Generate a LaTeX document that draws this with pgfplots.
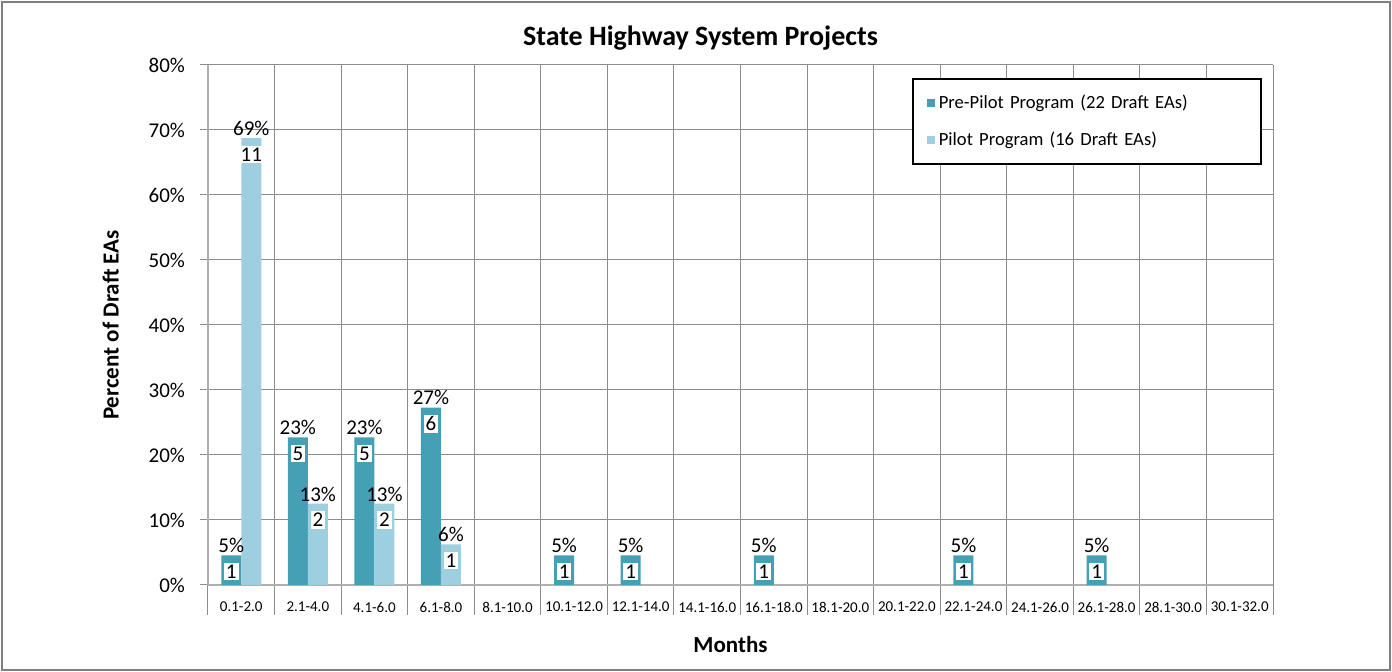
\documentclass[border=0pt]{standalone}
\usepackage{pgfplots}
\pgfplotsset{compat=1.18}
\usepackage{pgfplotstable}
\usepackage{fontspec}
\setmainfont{Carlito}
\definecolor{prepilot}{HTML}{45A0B6}
\definecolor{pilot}{HTML}{9DCFE0}
\definecolor{gridc}{HTML}{8C8C8C}
\setlength{\fboxsep}{1pt}

\pgfplotstableread{
x y pl n
0 4.545 5 1
1 22.727 23 5
2 22.727 23 5
3 27.273 27 6
5 4.545 5 1
6 4.545 5 1
8 4.545 5 1
11 4.545 5 1
13 4.545 5 1
}\prepilotdata

\pgfplotstableread{
x y pl n
0 68.75 69 11
1 12.5 13 2
2 12.5 13 2
3 6.25 6 1
}\pilotdata

\begin{document}
\begin{tikzpicture}
\useasboundingbox (-104pt,-43.5pt) rectangle (592pt,292.5pt);
\draw[gray, line width=1pt] (-103pt,-42.5pt) rectangle (591pt,291.5pt);
\begin{axis}[
  at={(0,0)}, anchor=south west,
  scale only axis,
  width=532.5pt, height=260pt,
  ybar=0pt, bar width=10pt,
  xmin=-0.5, xmax=15.5,
  ymin=0, ymax=80,
  xtick={0,...,15},
  xticklabels={0.1-2.0,2.1-4.0,4.1-6.0,6.1-8.0,8.1-10.0,10.1-12.0,12.1-14.0,14.1-16.0,16.1-18.0,18.1-20.0,20.1-22.0,22.1-24.0,24.1-26.0,26.1-28.0,28.1-30.0,30.1-32.0},
  major x tick style={draw=none},
  minor xtick={-0.5,0.5,...,15.5},
  minor x tick style={draw=gridc, line width=0.5pt},
  minor tick length=15pt,
  x grid style={gridc, line width=0.5pt},
  xminorgrids=true,
  ytick={0,10,...,80},
  yticklabel={\pgfmathprintnumber{\tick}\%},
  ymajorgrids=true,
  y grid style={gridc, line width=0.5pt},
  major tick length=4pt,
  tick align=outside,
  xtick pos=bottom, ytick pos=left,
  y tick style={draw=gridc, line width=0.5pt},
  axis line style={draw=gridc!70, line width=0.6pt},
  axis x line*=bottom,
  axis y line*=left,
  tick label style={font=\fontsize{10.5}{12}\selectfont},
  y tick label style={xshift=-4pt},
  x tick label style={font=\fontsize{7.5}{8}\selectfont, yshift=-1pt},
  /pgf/number format/assume math mode=true,
  xlabel={\textbf{Months}},
  ylabel={\textbf{Percent of Draft EAs}},
  label style={font=\fontsize{11.5}{13}\selectfont},
  xlabel style={yshift=-5pt, xshift=-5pt},
  ylabel style={yshift=8pt},
  title={\textbf{State Highway System Projects}},
  title style={font=\fontsize{14}{16}\selectfont, yshift=-2pt, xshift=-20pt},
  legend style={at={(rel axis cs:0.9895,0.975)}, anchor=north east,
    draw=black, line width=1pt, font=\fontsize{9.3}{11}\selectfont,
    inner xsep=7pt, inner ysep=6pt, row sep=6pt,
    legend cell align=left, text width=152pt},
  legend image code/.code={\fill[#1,draw=none] (0pt,-2pt) rectangle (4pt,2pt);},
  nodes near coords={\shortstack{\pgfmathprintnumber[fixed,precision=0]{\pl}\%\\[2pt]\colorbox{white}{\pgfmathprintnumber[fixed,precision=0]{\cnt}}}},
  nodes near coords align={anchor=center},
  every node near coord/.append style={font=\fontsize{10.5}{11}\selectfont, inner sep=0pt, yshift=-2pt},
]
\addplot[fill=prepilot, draw=none,
  visualization depends on={\thisrow{pl} \as \pl},
  visualization depends on={\thisrow{n} \as \cnt}]
  table[x=x, y=y] {\prepilotdata};
\addplot[fill=pilot, draw=none,
  visualization depends on={\thisrow{pl} \as \pl},
  visualization depends on={\thisrow{n} \as \cnt}]
  table[x=x, y=y] {\pilotdata};
\legend{Pre-Pilot Program (22 Draft EAs), Pilot Program (16 Draft EAs)}
\end{axis}
\end{tikzpicture}
\end{document}
